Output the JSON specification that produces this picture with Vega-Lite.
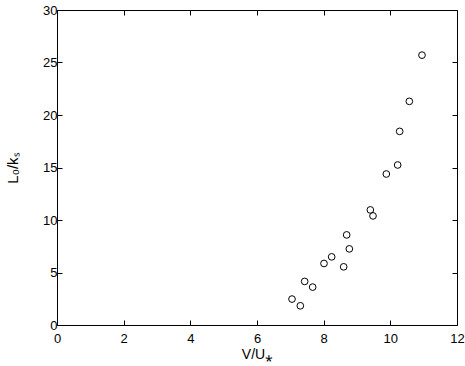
{
  "$schema": "https://vega.github.io/schema/vega-lite/v6.json",
  "width": 400,
  "height": 315,
  "autosize": {"type": "none"},
  "padding": {"left": 57, "top": 10, "right": 8, "bottom": 41},
  "background": "white",
  "config": {
    "view": {"stroke": "black", "strokeWidth": 1},
    "axis": {
      "labelFont": "Liberation Sans",
      "titleFont": "Liberation Sans",
      "labelFontSize": 13,
      "titleFontSize": 14,
      "titleFontWeight": "normal",
      "labelColor": "black",
      "titleColor": "black",
      "labelFlush": false,
      "labelOverlap": false,
      "domain": false,
      "grid": false,
      "tickColor": "black",
      "tickSize": -5,
      "labelPadding": 7
    }
  },
  "data": {
    "values": [
      {"x": 10.95, "y": 25.7},
      {"x": 10.57, "y": 21.3},
      {"x": 10.28, "y": 18.44},
      {"x": 10.22, "y": 15.24},
      {"x": 9.88, "y": 14.38},
      {"x": 9.40, "y": 10.96},
      {"x": 9.48, "y": 10.39},
      {"x": 8.69, "y": 8.58},
      {"x": 8.77, "y": 7.25},
      {"x": 8.24, "y": 6.49},
      {"x": 8.01, "y": 5.86},
      {"x": 8.60, "y": 5.54},
      {"x": 7.43, "y": 4.15},
      {"x": 7.67, "y": 3.61},
      {"x": 7.05, "y": 2.47},
      {"x": 7.30, "y": 1.83}
    ]
  },
  "layer": [
    {
      "mark": {"type": "point", "shape": "circle", "filled": false, "color": "black", "size": 45, "strokeWidth": 1, "opacity": 1},
      "encoding": {
        "x": {"field": "x", "type": "quantitative", "scale": {"domain": [0, 12], "nice": false}, "axis": {"orient": "bottom", "values": [0, 2, 4, 6, 8, 10, 12], "title": "V/U⁎", "titlePadding": 2, "labelPadding": 12}},
        "y": {"field": "y", "type": "quantitative", "scale": {"domain": [0, 30], "nice": false}, "axis": {"orient": "left", "values": [0, 5, 10, 15, 20, 25, 30], "title": "L₀/kₛ", "titleFontSize": 15, "titlePadding": 22, "labelPadding": 5}}
      }
    },
    {
      "mark": {"type": "point", "opacity": 0},
      "encoding": {
        "x": {"field": "x", "type": "quantitative", "axis": {"orient": "top", "values": [0, 2, 4, 6, 8, 10, 12], "labels": false, "title": null}},
        "y": {"field": "y", "type": "quantitative", "axis": {"orient": "right", "values": [0, 5, 10, 15, 20, 25, 30], "labels": false, "title": null}}
      }
    }
  ],
  "resolve": {"axis": {"x": "independent", "y": "independent"}}
}
